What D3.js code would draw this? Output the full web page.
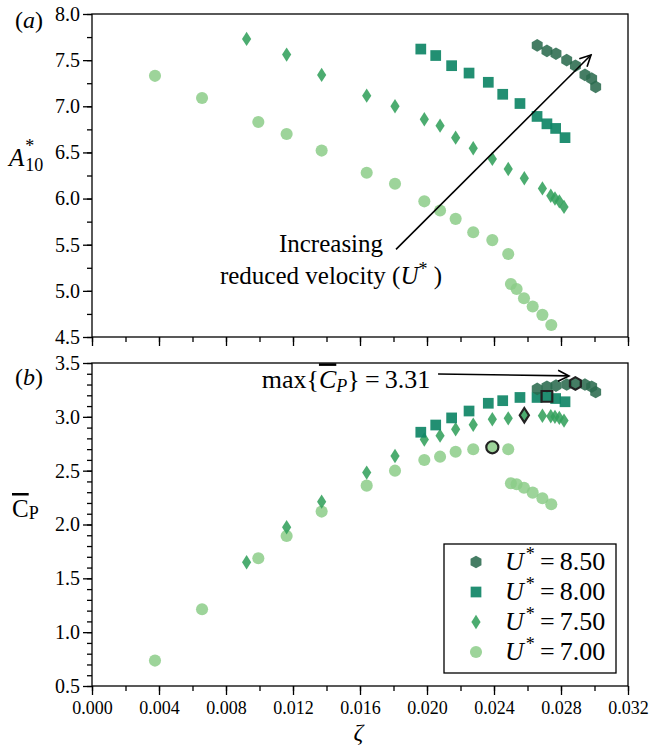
<!DOCTYPE html>
<html>
<head>
<meta charset="utf-8">
<script src="https://cdn.jsdelivr.net/npm/d3@7"></script>
<style>
  body { margin: 0; background: #fff; }
  svg text { font-family: "Liberation Serif", "Times New Roman", Times, serif !important; fill: #000; }
</style>
</head>
<body>
<div id="chart"></div>
<script>
// damping ratio zeta, amplitude A*_10 and mean power coefficient per reduced velocity
const zeta70 = [0.00376, 0.00657, 0.00993, 0.01162, 0.01371, 0.0164, 0.01809, 0.01984, 0.02078, 0.02171, 0.02276, 0.0239, 0.02485, 0.02501, 0.02535, 0.02579, 0.02631, 0.02689, 0.02742];
const amp70 = [7.33, 7.09, 6.83, 6.70, 6.52, 6.28, 6.16, 5.97, 5.87, 5.78, 5.635, 5.55, 5.40, 5.075, 5.02, 4.92, 4.83, 4.74, 4.63];
const cp70 = [0.736, 1.213, 1.687, 1.894, 2.12, 2.361, 2.50, 2.599, 2.63, 2.676, 2.699, 2.717, 2.699, 2.383, 2.374, 2.342, 2.296, 2.244, 2.188];

const zeta75 = [0.00923, 0.01162, 0.01371, 0.0164, 0.01809, 0.01984, 0.02078, 0.02171, 0.02276, 0.0239, 0.02485, 0.02581, 0.02689, 0.02739, 0.02764, 0.0279, 0.02818];
const amp75 = [7.73, 7.56, 7.34, 7.115, 7.00, 6.86, 6.79, 6.66, 6.545, 6.43, 6.32, 6.22, 6.11, 6.03, 6.00, 5.97, 5.91];
const cp75 = [1.649, 1.974, 2.212, 2.482, 2.636, 2.79, 2.825, 2.884, 2.927, 2.977, 2.986, 3.015, 3.01, 3.005, 3.0, 2.99, 2.965];

const zeta80 = [0.01963, 0.02052, 0.02147, 0.02251, 0.02366, 0.02452, 0.02555, 0.02657, 0.02716, 0.02768, 0.02824];
const amp80 = [7.62, 7.55, 7.44, 7.36, 7.26, 7.13, 7.03, 6.89, 6.81, 6.76, 6.66];
const cp80 = [2.857, 2.924, 2.99, 3.054, 3.126, 3.15, 3.18, 3.18, 3.19, 3.17, 3.14];

const zeta85 = [0.02658, 0.02716, 0.0277, 0.02834, 0.02886, 0.02943, 0.02983, 0.03007];
const amp85 = [7.66, 7.60, 7.57, 7.50, 7.44, 7.34, 7.30, 7.21];
const cp85 = [3.26, 3.28, 3.29, 3.30, 3.31, 3.30, 3.28, 3.23];

const legendLabels = ["8.50", "8.00", "7.50", "7.00"];
const xTicks = [0, 0.004, 0.008, 0.012, 0.016, 0.02, 0.024, 0.028, 0.032];
const topTicks = [4.5, 5.0, 5.5, 6.0, 6.5, 7.0, 7.5, 8.0];
const botTicks = [0.5, 1.0, 1.5, 2.0, 2.5, 3.0, 3.5];

const width = 650, height = 750;
const margin = { left: 92, right: 22 };
const serif = "'Liberation Serif', 'Times New Roman', Times, serif";

const svg = d3.select("#chart").append("svg")
    .attr("width", width)
    .attr("height", height)
    .style("font-family", serif);

const x = d3.scaleLinear().domain([0, 0.032]).range([margin.left, width - margin.right]);
const yTop = d3.scaleLinear().domain([4.5, 8.0]).range([337, 14]);
const yBot = d3.scaleLinear().domain([0.5, 3.5]).range([686, 363]);

// marker shapes (drawn at the origin, moved with translate)
function hexPath(r) {
    const p = d3.path();
    for (let i = 0; i < 6; i++) {
        const a = Math.PI / 2 + i * Math.PI / 3;
        const px = r * Math.cos(a), py = -r * Math.sin(a);
        if (i === 0) p.moveTo(px, py); else p.lineTo(px, py);
    }
    p.closePath();
    return p.toString();
}
function diamondPath(w, h) {
    return `M0,${-h}L${w},0L0,${h}L${-w},0Z`;
}
const shapes = {
    hex: hexPath(6.3),
    square: d3.symbol(d3.symbolSquare, 115)(),
    diamond: diamondPath(4.6, 7.2),
    circle: d3.symbol(d3.symbolCircle, 115)()
};

const series = [
    { label: legendLabels[0], zeta: zeta85, amp: amp85, cp: cp85, shape: "hex", color: "#2b6b4f", op: 0.88 },
    { label: legendLabels[1], zeta: zeta80, amp: amp80, cp: cp80, shape: "square", color: "#0f8566", op: 0.92 },
    { label: legendLabels[2], zeta: zeta75, amp: amp75, cp: cp75, shape: "diamond", color: "#33a05c", op: 0.88 },
    { label: legendLabels[3], zeta: zeta70, amp: amp70, cp: cp70, shape: "circle", color: "#8ccd88", op: 0.85 }
];

function drawAxes(y, ticks, minorStep, showLabels) {
    const [y0, y1] = y.domain();
    const g = svg.append("g");
    // frame
    g.append("rect")
        .attr("x", x.range()[0]).attr("y", y.range()[1])
        .attr("width", x.range()[1] - x.range()[0])
        .attr("height", y.range()[0] - y.range()[1])
        .attr("fill", "none").attr("stroke", "#000").attr("stroke-width", 1.3);

    const minorX = d3.range(0, 0.0321, 0.002);
    const xa = g.append("g")
        .attr("transform", `translate(0,${y.range()[0]})`)
        .call(d3.axisBottom(x).tickValues(minorX).tickSize(5).tickFormat(""));
    xa.select(".domain").remove();
    const xb = g.append("g")
        .attr("transform", `translate(0,${y.range()[0]})`)
        .call(d3.axisBottom(x).tickValues(xTicks).tickSize(9).tickPadding(6)
            .tickFormat(showLabels ? d3.format(".3f") : ""));
    xb.select(".domain").remove();
    xb.selectAll("text").attr("font-size", 18).style("font-family", serif);

    const minorY = d3.range(y0, y1 + 1e-9, minorStep);
    const ya = g.append("g")
        .attr("transform", `translate(${x.range()[0]},0)`)
        .call(d3.axisLeft(y).tickValues(minorY).tickSize(5).tickFormat(""));
    ya.select(".domain").remove();
    const yb = g.append("g")
        .attr("transform", `translate(${x.range()[0]},0)`)
        .call(d3.axisLeft(y).tickValues(ticks).tickSize(9).tickPadding(3).tickFormat(d3.format(".1f")));
    yb.select(".domain").remove();
    yb.selectAll("text").attr("font-size", 20).style("font-family", serif);
    g.selectAll(".tick line").attr("stroke", "#000").attr("stroke-width", 1.3);
}

drawAxes(yTop, topTicks, 0.25, false);
drawAxes(yBot, botTicks, 0.1, true);

// points; the best C_P of each series gets a black edge and is drawn last
function drawPoints(y, key, highlight) {
    const hiPts = [];
    series.slice().reverse().forEach((s) => {
        const best = d3.maxIndex(s.cp);
        const pts = s.zeta.map((z, i) => ({ z: z, v: s[key][i], s: s, hi: highlight && i === best }));
        pts.filter((d) => d.hi).forEach((d) => hiPts.push(d));
        svg.append("g").selectAll("path")
            .data(pts.filter((d) => !d.hi))
            .enter()
            .append("path")
            .attr("d", shapes[s.shape])
            .attr("transform", (d) => `translate(${x(d.z)},${y(d.v)})`)
            .attr("fill", s.color)
            .attr("fill-opacity", s.op);
    });
    svg.append("g").selectAll("path")
        .data(hiPts)
        .enter()
        .append("path")
        .attr("d", (d) => shapes[d.s.shape])
        .attr("transform", (d) => `translate(${x(d.z)},${y(d.v)})`)
        .attr("fill", (d) => d.s.color)
        .attr("fill-opacity", (d) => d.s.op)
        .attr("stroke", "#222")
        .attr("stroke-width", 2.2);
}
drawPoints(yTop, "amp", false);
drawPoints(yBot, "cp", true);

// arrow marker
svg.append("defs").append("marker")
    .attr("id", "head")
    .attr("viewBox", "-12 -7 14 14")
    .attr("refX", 0).attr("refY", 0)
    .attr("markerWidth", 14).attr("markerHeight", 14)
    .attr("markerUnits", "userSpaceOnUse")
    .attr("orient", "auto")
    .append("path")
    .attr("d", "M-11,-5.5L0,0L-11,5.5")
    .attr("fill", "none").attr("stroke", "#000").attr("stroke-width", 1.6);

// panel (a) annotation
svg.append("line")
    .attr("x1", x(0.01815)).attr("y1", yTop(5.45))
    .attr("x2", x(0.02979)).attr("y2", yTop(7.556))
    .attr("stroke", "#000").attr("stroke-width", 1.6)
    .attr("marker-end", "url(#head)");
const ann = svg.append("text")
    .attr("text-anchor", "middle")
    .attr("font-size", 25);
ann.append("tspan").attr("x", x(0.01427)).attr("y", yTop(5.42)).text("Increasing");
const ann2 = ann.append("tspan").attr("x", x(0.01427)).attr("y", yTop(5.07));
ann2.append("tspan").text("reduced velocity (");
ann2.append("tspan").attr("font-style", "italic").text("U");
ann2.append("tspan").attr("dy", -9).attr("font-size", 18).text("*");
ann2.append("tspan").attr("dy", 9).text(" )");

// panel (b) annotation
svg.append("line")
    .attr("x1", x(0.02066)).attr("y1", yBot(3.398))
    .attr("x2", x(0.02848)).attr("y2", yBot(3.38))
    .attr("stroke", "#000").attr("stroke-width", 1.6)
    .attr("marker-end", "url(#head)");
const mx = svg.append("text")
    .attr("text-anchor", "end")
    .attr("x", x(0.0202)).attr("y", yBot(3.265))
    .attr("font-size", 26);
mx.append("tspan").text("max{");
mx.append("tspan").attr("font-style", "italic").attr("text-decoration", "overline").text("C");
mx.append("tspan").attr("font-style", "italic").attr("font-size", 18).attr("dy", 4).text("P");
mx.append("tspan").attr("dy", -4).text("}\u2009=\u20093.31");

// axis labels and panel letters
const yl1 = svg.append("text").attr("x", 9).attr("y", 166).attr("font-size", 25);
yl1.append("tspan").attr("font-style", "italic").text("A");
yl1.append("tspan").attr("font-size", 18).attr("dx", 1).attr("dy", -14).text("*");
yl1.append("tspan").attr("font-size", 18).attr("dx", -9).attr("dy", 19).text("10");

const yl2 = svg.append("text").attr("x", 12).attr("y", 517).attr("font-size", 25);
yl2.append("tspan").attr("text-decoration", "overline").text("C");
yl2.append("tspan").attr("font-size", 18).attr("dy", 2).text("P");

svg.append("text").attr("x", x(0.0159)).attr("y", 740)
    .attr("text-anchor", "middle").attr("font-size", 24).attr("font-style", "italic").text("ζ");

const pa = svg.append("text").attr("x", 15).attr("y", 28).attr("font-size", 24);
pa.append("tspan").text("(");
pa.append("tspan").attr("font-style", "italic").text("a");
pa.append("tspan").text(")");
const pb = svg.append("text").attr("x", 15).attr("y", 385).attr("font-size", 24);
pb.append("tspan").text("(");
pb.append("tspan").attr("font-style", "italic").text("b");
pb.append("tspan").text(")");

// legend
const lg = svg.append("g");
lg.append("rect")
    .attr("x", 444).attr("y", 544).attr("width", 172).attr("height", 129)
    .attr("fill", "#fff").attr("stroke", "#000").attr("stroke-width", 1.3);
series.forEach((s, i) => {
    const ry = 562 + i * 30;
    lg.append("path")
        .attr("d", shapes[s.shape])
        .attr("transform", `translate(476,${ry})`)
        .attr("fill", s.color).attr("fill-opacity", s.op);
    const t = lg.append("text").attr("x", 505).attr("y", ry + 8).attr("font-size", 26);
    t.append("tspan").attr("font-style", "italic").text("U");
    t.append("tspan").attr("font-size", 18).attr("dx", 2).attr("dy", -10).text("*");
    t.append("tspan").attr("dy", 10).text("\u2009=\u2009" + s.label);
});
</script>
</body>
</html>
